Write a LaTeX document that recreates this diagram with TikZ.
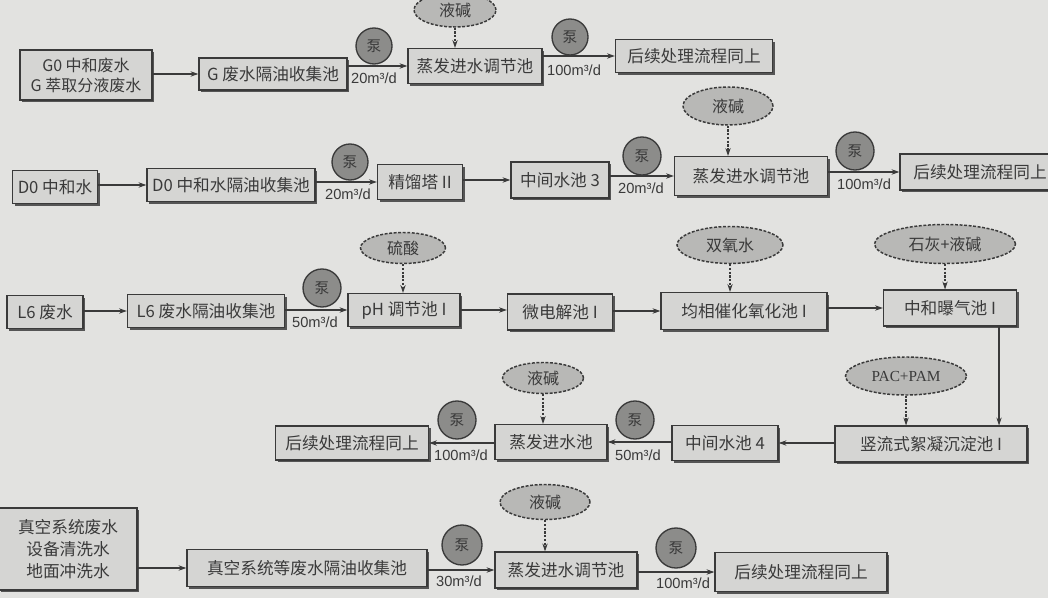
\documentclass[tikz,border=0pt]{standalone}
\usepackage{fontspec}
\setmainfont{Liberation Serif}
\newfontfamily\cjk{Noto Sans CJK SC}
\newfontfamily\ratefont{Liberation Sans}
\usetikzlibrary{shapes.geometric,shadows,arrows.meta}
\definecolor{bg}{HTML}{E2E2E0}
\definecolor{boxfill}{HTML}{D5D5D3}
\definecolor{ink}{HTML}{3A3A3A}
\definecolor{pumpfill}{HTML}{8C8C8A}
\definecolor{ellfill}{HTML}{B8B8B6}
\definecolor{shade}{HTML}{555555}
\begin{document}
\begin{tikzpicture}[x=0.75pt,y=-0.75pt,
  sz/.style 2 args={minimum width=#1*0.75pt,minimum height=#2*0.75pt},
  box/.style={draw=ink,line width=0.8pt,fill=boxfill,inner sep=0pt,align=center,text=ink,
    font=\cjk\fontsize{12.5}{15}\selectfont,
    drop shadow={shadow xshift=1.6pt,shadow yshift=-1.6pt,fill=shade,opacity=1}},
  pump/.style={circle,draw=ink,line width=1pt,fill=pumpfill,inner sep=0pt,text=ink,
    font=\cjk\fontsize{11}{13}\selectfont},
  agent/.style={ellipse,draw=ink,line width=1.1pt,dash pattern=on 2.2pt off 1.2pt,fill=ellfill,
    inner sep=0pt,text=ink,font=\cjk\fontsize{12}{14}\selectfont},
  rate/.style={inner sep=0pt,text=ink,font=\ratefont\fontsize{11}{13}\selectfont},
  arr/.style={draw=ink,line width=0.8pt,-{Stealth[length=6pt,width=4pt]}},
  darr/.style={draw=ink,line width=0.8pt,dash pattern=on 1.6pt off 1.2pt,-{Stealth[length=6pt,width=4pt]}}
]
\fill[bg] (0,0) rectangle (1048,598);
\useasboundingbox (0,0) rectangle (1048,598);

% ---------- Row 1 ----------
\node[box,sz={132}{50},font=\cjk\fontsize{12}{15}\selectfont] (A1) at (86,75) {G0 中和废水\\G 萃取分液废水};
\node[box,sz={148}{32}] (A2) at (273,74) {G 废水隔油收集池};
\node[box,sz={134}{35}] (A3) at (475,66) {蒸发进水调节池};
\node[box,sz={157}{33}] (A4) at (694,56) {后续处理流程同上};
\node[agent,sz={82}{34}] (e1) at (455,10) {液碱};
\node[pump,sz={36}{36}] (p1) at (374,46) {泵};
\node[pump,sz={36}{36}] (p2) at (570,37) {泵};
\node[rate] (r1) at (374,78) {20m³/d};
\node[rate] (r2) at (574,70) {100m³/d};
\draw[arr] (A1.east |- A2.west) -- (A2.west);
\draw[arr] (A2.east |- A3.west) -- (A3.west);
\draw[arr] (A3.east |- A4.west) -- (A4.west);
\draw[darr] (e1.south) -- (e1.south |- A3.north);

% ---------- Row 2 ----------
\node[box,sz={85}{33}] (B1) at (55,187) {D0 中和水};
\node[box,sz={168}{33}] (B2) at (231,185) {D0 中和水隔油收集池};
\node[box,sz={85}{35}] (B3) at (420,182) {精馏塔 II};
\node[box,sz={98}{36}] (B4) at (560,180) {中间水池 3};
\node[box,sz={153}{39}] (B5) at (751,176) {蒸发进水调节池};
\node[box,sz={160}{36}] (B6) at (980,172) {后续处理流程同上};
\node[agent,sz={90}{38}] (e2) at (728,106) {液碱};
\node[pump,sz={36}{36}] (p3) at (350,162) {泵};
\node[pump,sz={38}{38}] (p4) at (642,156) {泵};
\node[pump,sz={38}{38}] (p5) at (855,151) {泵};
\node[rate] (r3) at (348,194) {20m³/d};
\node[rate] (r4) at (641,188) {20m³/d};
\node[rate] (r5) at (864,184) {100m³/d};
\draw[arr] (B1.east |- B2.west) -- (B2.west);
\draw[arr] (B2.east |- B3.west) -- (B3.west);
\draw[arr] (B3.east |- B4.west) -- (B4.west);
\draw[arr] (B4.east |- B5.west) -- (B5.west);
\draw[arr] (B5.east |- B6.west) -- (B6.west);
\draw[darr] (e2.south) -- (e2.south |- B5.north);

% ---------- Row 3 ----------
\node[box,sz={76}{33}] (C1) at (45,312) {L6 废水};
\node[box,sz={157}{33}] (C2) at (206,311) {L6 废水隔油收集池};
\node[box,sz={112}{33}] (C3) at (404,310) {pH 调节池 I};
\node[box,sz={105}{36}] (C4) at (560,312) {微电解池 I};
\node[box,sz={166}{37}] (C5) at (744,311) {均相催化氧化池 I};
\node[box,sz={133}{36}] (C6) at (950,308) {中和曝气池 I};
\node[agent,sz={85}{31}] (e3) at (403,248) {硫酸};
\node[agent,sz={106}{37}] (e4) at (730,245) {双氧水};
\node[agent,sz={141}{39}] (e5) at (945,244) {石灰+液碱};
\node[pump,sz={38}{38}] (p6) at (322,288) {泵};
\node[rate] (r6) at (315,322) {50m³/d};
\draw[arr] (C1.east |- C2.west) -- (C2.west);
\draw[arr] (C2.east |- C3.west) -- (C3.west);
\draw[arr] (C3.east) -- (C3.east -| C4.west);
\draw[arr] (C4.east |- C5.west) -- (C5.west);
\draw[arr] (C5.east |- C6.west) -- (C6.west);
\draw[darr] (e3.south) -- (e3.south |- C3.north);
\draw[darr] (e4.south) -- (e4.south |- C5.north);
\draw[darr] (e5.south) -- (e5.south |- C6.north);

% ---------- Row 4 ----------
\node[box,sz={192}{36}] (D1) at (931,444) {竖流式絮凝沉淀池 I};
\node[box,sz={106}{35}] (D2) at (725,443) {中间水池 4};
\node[box,sz={112}{35}] (D3) at (551,442) {蒸发进水池};
\node[box,sz={153}{34}] (D4) at (352,443) {后续处理流程同上};
\node[agent,sz={121}{38},font=\fontsize{11.5}{14}\selectfont] (e6) at (906,376) {PAC+PAM};
\node[agent,sz={81}{31}] (e7) at (543,378) {液碱};
\node[pump,sz={38}{38}] (p7) at (635,420) {泵};
\node[pump,sz={38}{38}] (p8) at (457,420) {泵};
\node[rate] (r7) at (638,455) {50m³/d};
\node[rate] (r8) at (461,455) {100m³/d};
\coordinate (vx) at (999,0);
\draw[arr] (C6.south -| vx) -- (D1.north -| vx);
\draw[arr] (D1.west |- D2.east) -- (D2.east);
\draw[arr] (D2.west |- D3.east) -- (D3.east);
\draw[arr] (D3.west |- D4.east) -- (D4.east);
\draw[darr] (e6.south) -- (e6.south |- D1.north);
\draw[darr] (e7.south) -- (e7.south |- D3.north);

% ---------- Row 5 ----------
\node[box,sz={138}{82},font=\cjk\fontsize{12.5}{16.5}\selectfont] (E1) at (68,549) {真空系统废水\\设备清洗水\\地面冲洗水};
\node[box,sz={240}{37}] (E2) at (307,568) {真空系统等废水隔油收集池};
\node[box,sz={142}{36}] (E3) at (566,570) {蒸发进水调节池};
\node[box,sz={172}{39}] (E4) at (801,572) {后续处理流程同上};
\node[agent,sz={90}{35}] (e8) at (545,502) {液碱};
\node[pump,sz={40}{40}] (p9) at (462,545) {泵};
\node[pump,sz={40}{40}] (p10) at (676,548) {泵};
\node[rate] (r9) at (459,581) {30m³/d};
\node[rate] (r10) at (683,583) {100m³/d};
\draw[arr] (E1.east |- E2.west) -- (E2.west);
\draw[arr] (E2.east |- E3.west) -- (E3.west);
\draw[arr] (E3.east |- E4.west) -- (E4.west);
\draw[darr] (e8.south) -- (e8.south |- E3.north);
\end{tikzpicture}
\end{document}
